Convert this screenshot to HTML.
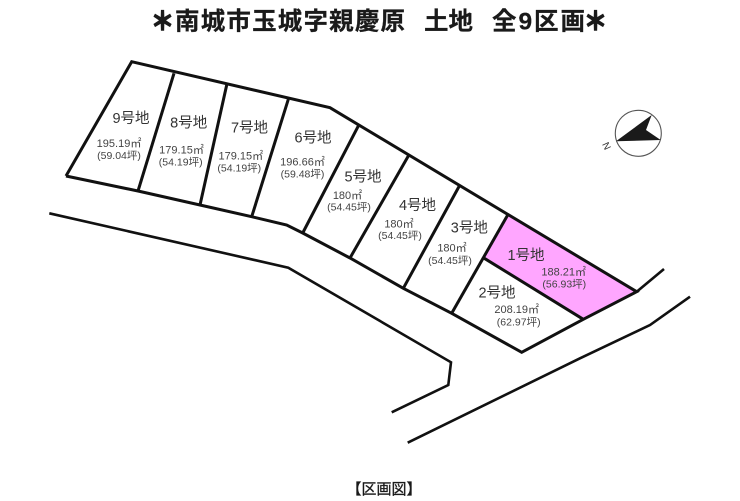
<!DOCTYPE html>
<html lang="ja">
<head>
<meta charset="utf-8">
<style>
html,body{margin:0;padding:0;background:#fff;width:740px;height:501px;overflow:hidden}
svg{display:block}
text{font-family:"Liberation Sans","Noto Sans CJK JP",sans-serif;text-anchor:middle}
.t{font-size:24.5px;fill:#1a1a1a;text-anchor:start;font-weight:700;stroke:#1a1a1a;stroke-width:.25}
.s{font-size:25px;fill:#1a1a1a;text-anchor:start;font-weight:700;stroke:#1a1a1a;stroke-width:1.6}
.l{font-size:14.5px;fill:#333}
.a{font-size:11px;fill:#444}
.p{font-size:10.5px;fill:#444}
.b{fill:none;stroke:#111;stroke-width:3;stroke-linejoin:miter}
.r{fill:none;stroke:#111;stroke-width:2.6}
</style>
</head>
<body>
<svg width="740" height="501" viewBox="0 0 740 501" xmlns="http://www.w3.org/2000/svg">
<rect width="740" height="501" fill="#fff"/>

<text class="s" x="151" y="30" textLength="23" lengthAdjust="spacingAndGlyphs">＊</text>
<text class="t" x="175" y="29.5" textLength="230" lengthAdjust="spacing">南城市玉城字親慶原</text>
<text class="t" x="424" y="29.5" textLength="49" lengthAdjust="spacing">土地</text>
<text class="t" x="492" y="29.5" textLength="93" lengthAdjust="spacing">全9区画</text>
<text class="s" x="584" y="30" textLength="23" lengthAdjust="spacingAndGlyphs">＊</text>

<polygon points="507.7,215 636.7,291.7 583.3,319.3 484.3,258.3" fill="#ffa6ff"/>

<polyline class="b" points="66,176 131.7,61.7 330,107.7 636.7,291.7 583.3,319.3 521.7,352.3 451.7,313.3 403.3,288.3 350,258 302.7,233 286.7,225 251.7,216.7 200,205 138,191 66,176 "/>
<line class="b" x1="174" y1="73.3" x2="138" y2="191"/>
<line class="b" x1="226.7" y1="85" x2="200" y2="205"/>
<line class="b" x1="288.3" y1="99.3" x2="251.7" y2="216.7"/>
<line class="b" x1="358.3" y1="126" x2="302.7" y2="233"/>
<line class="b" x1="408.3" y1="156" x2="350" y2="258"/>
<line class="b" x1="459.3" y1="186" x2="403.3" y2="288.3"/>
<line class="b" x1="507.7" y1="215" x2="451.7" y2="313.3"/>
<line class="b" x1="484.3" y1="258.3" x2="583.3" y2="319.3"/>

<polyline class="r" points="636.7,291.7 664,269"/>
<polyline class="r" points="49.3,213.3 288.3,267.7 451,362.3 448.3,385 391.7,412.3"/>
<polyline class="r" points="407.7,442.7 580,358.3 650,325 690,296.7"/>

<circle cx="638.3" cy="133.3" r="23" fill="#fff" stroke="#555" stroke-width="1.1"/>
<polygon points="616,141.3 651.7,115 646,130 660.7,140" fill="#1a1a1a"/>
<text transform="translate(606.5,146) rotate(-115)" x="0" y="3.5" style="font-size:10px;fill:#333">N</text>

<text class="l" x="131" y="123">9号地</text>
<text class="a" x="119" y="147">195.19㎡</text>
<text class="p" x="119" y="159">(59.04坪)</text>

<text class="l" x="188.7" y="127.3">8号地</text>
<text class="a" x="181.5" y="153.3">179.15㎡</text>
<text class="p" x="180.7" y="165.7">(54.19坪)</text>

<text class="l" x="249.5" y="132.7">7号地</text>
<text class="a" x="240.8" y="159.3">179.15㎡</text>
<text class="p" x="239.3" y="171.3">(54.19坪)</text>

<text class="l" x="313" y="142.3">6号地</text>
<text class="a" x="302.5" y="165.3">196.66㎡</text>
<text class="p" x="302.5" y="177.7">(59.48坪)</text>

<text class="l" x="363" y="181.7">5号地</text>
<text class="a" x="347.5" y="199">180㎡</text>
<text class="p" x="349" y="210.7">(54.45坪)</text>

<text class="l" x="417.5" y="210">4号地</text>
<text class="a" x="399" y="227.3">180㎡</text>
<text class="p" x="400" y="239">(54.45坪)</text>

<text class="l" x="469.3" y="232.7">3号地</text>
<text class="a" x="452" y="251.3">180㎡</text>
<text class="p" x="450" y="264">(54.45坪)</text>

<text class="l" x="526" y="260">1号地</text>
<text class="a" x="563.7" y="275.7">188.21㎡</text>
<text class="p" x="564.3" y="287.3">(56.93坪)</text>

<text class="l" x="497" y="297.7">2号地</text>
<text class="a" x="516.7" y="313">208.19㎡</text>
<text class="p" x="518.7" y="325.7">(62.97坪)</text>

<text x="384" y="494" style="font-size:15px;fill:#1a1a1a;stroke:#1a1a1a;stroke-width:.3">【区画図】</text>
</svg>
</body>
</html>
